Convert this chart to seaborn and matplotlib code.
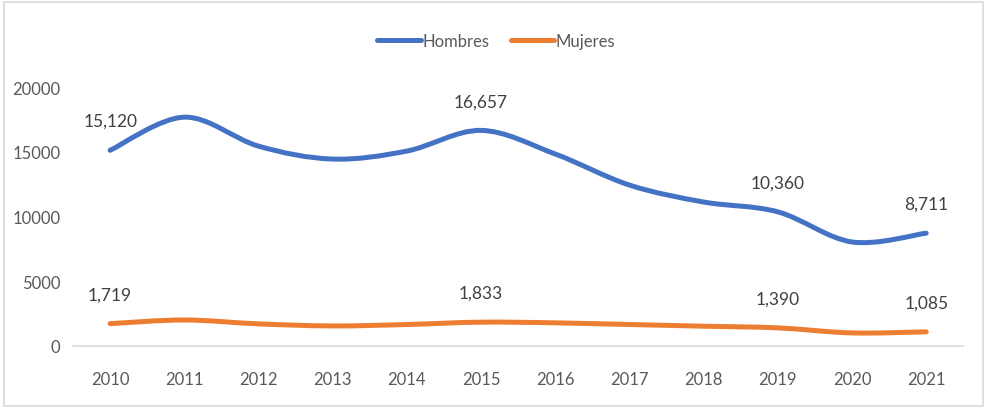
import numpy as np
import pandas as pd
import seaborn as sns
import matplotlib.pyplot as plt
from matplotlib.path import Path
from matplotlib.patches import PathPatch, Rectangle

years = [2010, 2011, 2012, 2013, 2014, 2015, 2016, 2017, 2018, 2019, 2020, 2021]
hombres = [15120, 17680, 15440, 14440, 15060, 16657, 14830, 12430, 11120, 10360, 8030, 8711]
mujeres = [1719, 2000, 1700, 1540, 1650, 1833, 1780, 1650, 1520, 1390, 1000, 1085]
labeled_years = [2010, 2015, 2019, 2021]

blue = "#4472C4"
orange = "#ED7D31"
grey_text = "#595959"

sns.set_theme(style="white")
plt.rcParams['font.family'] = ['Lato', 'DejaVu Sans']

df = pd.DataFrame({
    "idx": list(range(len(years))) * 2,
    "valor": hombres + mujeres,
    "serie": ["Hombres"] * len(years) + ["Mujeres"] * len(years),
})

fig = plt.figure(figsize=(9.87, 4.1), dpi=100)
ax = fig.add_axes([0.074, 0.154, 0.902, 0.631])

# seaborn draws the series (for scales and legend), smoothing drawn on top
sns.lineplot(data=df, x="idx", y="valor", hue="serie",
             palette={"Hombres": blue, "Mujeres": orange},
             linewidth=3.6, ax=ax)
for ln in ax.lines:
    ln.set_visible(False)


def smooth_path(xs, ys):
    # excel style smoothed line: catmull-rom converted to bezier segments
    pts = np.column_stack([xs, ys]).astype(float)
    n = len(pts)
    verts = [pts[0]]
    codes = [Path.MOVETO]
    for i in range(n - 1):
        p0 = pts[max(i - 1, 0)]
        p1 = pts[i]
        p2 = pts[i + 1]
        p3 = pts[min(i + 2, n - 1)]
        c1 = p1 + (p2 - p0) / 6.0
        c2 = p2 - (p3 - p1) / 6.0
        verts += [c1, c2, p2]
        codes += [Path.CURVE4] * 3
    return Path(verts, codes)


for vals, col in [(hombres, blue), (mujeres, orange)]:
    patch = PathPatch(smooth_path(range(len(years)), vals), facecolor="none",
                      edgecolor=col, lw=3.6, capstyle="round", joinstyle="round")
    ax.add_patch(patch)
    for i, y in enumerate(years):
        if y in labeled_years:
            ax.annotate(f"{vals[i]:,}", (i, vals[i]), xytext=(0, 21),
                        textcoords="offset points", ha="center", va="center",
                        fontsize=12.5, color="#404040")

ax.set_xlim(-0.5, len(years) - 0.5)
ax.set_ylim(0, 20000)
ax.set_yticks([0, 5000, 10000, 15000, 20000])
ax.set_xticks(range(len(years)))
ax.set_xticklabels([str(y) for y in years])
ax.set_xlabel("")
ax.set_ylabel("")
ax.tick_params(axis="both", length=0, labelsize=12, labelcolor=grey_text)
ax.tick_params(axis="x", pad=18)
ax.tick_params(axis="y", pad=9)
for s in ["top", "right", "left"]:
    ax.spines[s].set_visible(False)
ax.spines["bottom"].set_color("#d9d9d9")
ax.spines["bottom"].set_linewidth(1.2)
ax.grid(False)

handles, labels = ax.get_legend_handles_labels()
for h in handles:
    h.set_visible(True)
    h.set_solid_capstyle("round")
ax.legend(handles, labels, loc="center", bbox_to_anchor=(0.503, 0.898),
          bbox_transform=fig.transFigure, ncol=2, frameon=False,
          fontsize=12, handlelength=2.6, handletextpad=0.1, columnspacing=1.3,
          labelcolor=grey_text)

fig.patches.append(Rectangle((0.004, 0.008), 0.992, 0.985, transform=fig.transFigure,
                             fill=False, edgecolor="#d9d9d9", lw=1.2))

fig.savefig("out.png", dpi=100)
